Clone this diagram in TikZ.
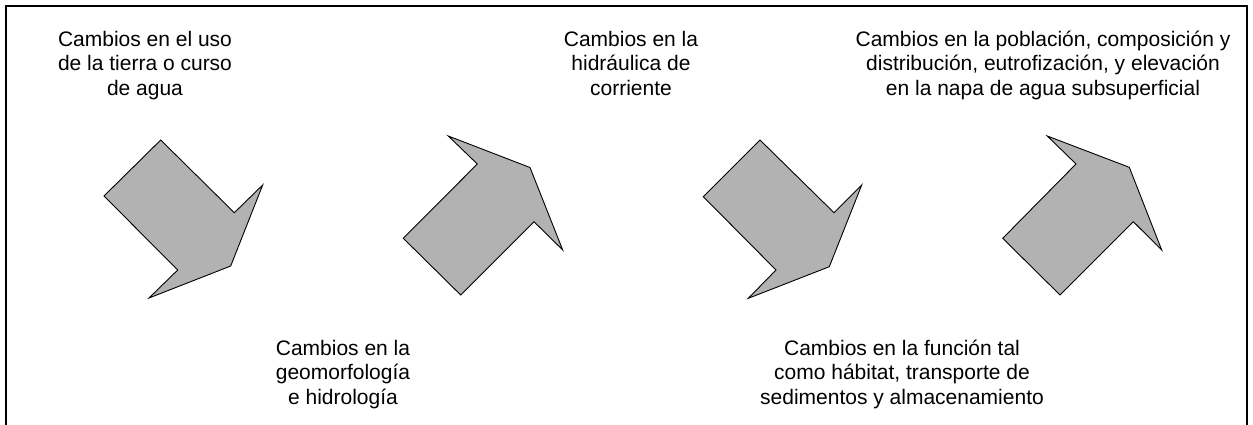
\documentclass[tikz,border=0pt]{standalone}
\usepackage{fontspec}
\setmainfont{Liberation Sans}
\begin{document}
\begin{tikzpicture}[x=1pt,y=-1pt,
  cambio/.style={align=center,anchor=base,inner sep=0pt,font=\fontsize{21}{24.5}\selectfont},
  flecha/.style={draw,fill=black!30,line width=0.9pt,line join=miter}]
\useasboundingbox (0,0) rectangle (1253,424);
\draw[line width=2pt] (6,430) -- (6,6) -- (1247,6) -- (1247,430);

% arrows
\draw[flecha] (160.7,140) -- (234.3,212.7) -- (262.7,185) -- (230.7,266) -- (149,298) -- (177.7,270) -- (104,196) -- cycle;
\draw[flecha] (448.3,136) -- (530,167.5) -- (562.7,250) -- (534,221.7) -- (460.7,295) -- (403.3,238.3) -- (477.3,164) -- cycle;
\draw[flecha] (760,140) -- (834,212.7) -- (861.7,185) -- (829.3,266.7) -- (748.3,298.3) -- (776,270) -- (703.3,196.7) -- cycle;
\draw[flecha] (1047.3,136) -- (1129.3,167.3) -- (1161.7,250) -- (1133.3,221.7) -- (1060,295) -- (1002.7,238.3) -- (1076,164) -- cycle;

% texts (base = last line)
\node[cambio] (uso) at (145,95) {Cambios en el uso\\de la tierra o curso\\de agua};
\node[cambio] (hidraulica) at (631,95) {Cambios en la\\hidráulica de\\corriente};
\node[cambio] (poblacion) at (1043,95) {Cambios en la población, composición y\\distribución, eutrofización, y elevación\\en la napa de agua subsuperficial};
\node[cambio] (geomorfologia) at (343,404) {Cambios en la\\geomorfología\\e hidrología};
\node[cambio] (funcion) at (902,404) {Cambios en la función tal\\como hábitat, transporte de\\sedimentos y almacenamiento};
\end{tikzpicture}
\end{document}
